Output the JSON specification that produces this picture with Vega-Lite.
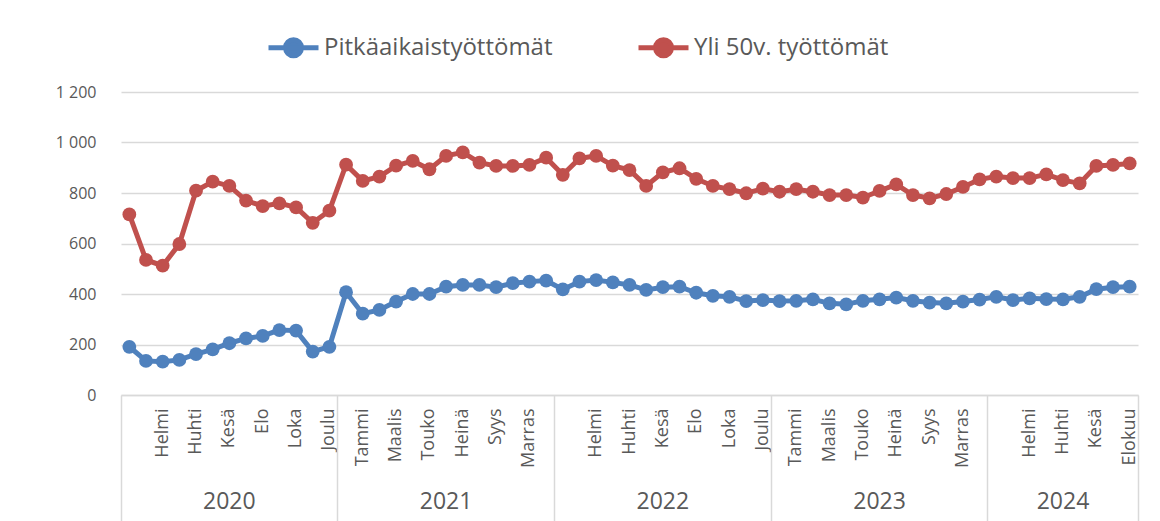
{
  "$schema": "https://vega.github.io/schema/vega-lite/v6.json",
  "width": 1017,
  "height": 303,
  "autosize": "none",
  "padding": {"left": 121, "top": 92, "right": 22, "bottom": 126},
  "background": "white",
  "config": {
    "font": "Open Sans",
    "view": {"stroke": null},
    "axis": {"labelColor": "#595959", "title": null, "grid": false, "labelOverlap": false, "labelFlush": false}
  },
  "data": {"values": [
    {"n":0,"s":"Pitkäaikaistyöttömät","v":191},{"n":1,"s":"Pitkäaikaistyöttömät","v":135},{"n":2,"s":"Pitkäaikaistyöttömät","v":132},{"n":3,"s":"Pitkäaikaistyöttömät","v":139},{"n":4,"s":"Pitkäaikaistyöttömät","v":162},{"n":5,"s":"Pitkäaikaistyöttömät","v":181},{"n":6,"s":"Pitkäaikaistyöttömät","v":205},{"n":7,"s":"Pitkäaikaistyöttömät","v":224},{"n":8,"s":"Pitkäaikaistyöttömät","v":234},{"n":9,"s":"Pitkäaikaistyöttömät","v":257},{"n":10,"s":"Pitkäaikaistyöttömät","v":255},{"n":11,"s":"Pitkäaikaistyöttömät","v":172},{"n":12,"s":"Pitkäaikaistyöttömät","v":191},
    {"n":13,"s":"Pitkäaikaistyöttömät","v":407},{"n":14,"s":"Pitkäaikaistyöttömät","v":322},{"n":15,"s":"Pitkäaikaistyöttömät","v":337},{"n":16,"s":"Pitkäaikaistyöttömät","v":370},{"n":17,"s":"Pitkäaikaistyöttömät","v":400},{"n":18,"s":"Pitkäaikaistyöttömät","v":400},{"n":19,"s":"Pitkäaikaistyöttömät","v":429},{"n":20,"s":"Pitkäaikaistyöttömät","v":436},{"n":21,"s":"Pitkäaikaistyöttömät","v":436},{"n":22,"s":"Pitkäaikaistyöttömät","v":427},{"n":23,"s":"Pitkäaikaistyöttömät","v":443},{"n":24,"s":"Pitkäaikaistyöttömät","v":449},{"n":25,"s":"Pitkäaikaistyöttömät","v":453},
    {"n":26,"s":"Pitkäaikaistyöttömät","v":418},{"n":27,"s":"Pitkäaikaistyöttömät","v":449},{"n":28,"s":"Pitkäaikaistyöttömät","v":455},{"n":29,"s":"Pitkäaikaistyöttömät","v":446},{"n":30,"s":"Pitkäaikaistyöttömät","v":436},{"n":31,"s":"Pitkäaikaistyöttömät","v":416},{"n":32,"s":"Pitkäaikaistyöttömät","v":427},{"n":33,"s":"Pitkäaikaistyöttömät","v":429},{"n":34,"s":"Pitkäaikaistyöttömät","v":405},{"n":35,"s":"Pitkäaikaistyöttömät","v":393},{"n":36,"s":"Pitkäaikaistyöttömät","v":389},{"n":37,"s":"Pitkäaikaistyöttömät","v":372},{"n":38,"s":"Pitkäaikaistyöttömät","v":376},
    {"n":39,"s":"Pitkäaikaistyöttömät","v":372},{"n":40,"s":"Pitkäaikaistyöttömät","v":373},{"n":41,"s":"Pitkäaikaistyöttömät","v":379},{"n":42,"s":"Pitkäaikaistyöttömät","v":363},{"n":43,"s":"Pitkäaikaistyöttömät","v":359},{"n":44,"s":"Pitkäaikaistyöttömät","v":373},{"n":45,"s":"Pitkäaikaistyöttömät","v":379},{"n":46,"s":"Pitkäaikaistyöttömät","v":386},{"n":47,"s":"Pitkäaikaistyöttömät","v":373},{"n":48,"s":"Pitkäaikaistyöttömät","v":366},{"n":49,"s":"Pitkäaikaistyöttömät","v":363},{"n":50,"s":"Pitkäaikaistyöttömät","v":370},{"n":51,"s":"Pitkäaikaistyöttömät","v":378},
    {"n":52,"s":"Pitkäaikaistyöttömät","v":389},{"n":53,"s":"Pitkäaikaistyöttömät","v":376},{"n":54,"s":"Pitkäaikaistyöttömät","v":383},{"n":55,"s":"Pitkäaikaistyöttömät","v":380},{"n":56,"s":"Pitkäaikaistyöttömät","v":379},{"n":57,"s":"Pitkäaikaistyöttömät","v":389},{"n":58,"s":"Pitkäaikaistyöttömät","v":419},{"n":59,"s":"Pitkäaikaistyöttömät","v":427},{"n":60,"s":"Pitkäaikaistyöttömät","v":429},
    {"n":0,"s":"Yli 50v. työttömät","v":715},{"n":1,"s":"Yli 50v. työttömät","v":535},{"n":2,"s":"Yli 50v. työttömät","v":512},{"n":3,"s":"Yli 50v. työttömät","v":598},{"n":4,"s":"Yli 50v. työttömät","v":809},{"n":5,"s":"Yli 50v. työttömät","v":845},{"n":6,"s":"Yli 50v. työttömät","v":828},{"n":7,"s":"Yli 50v. työttömät","v":770},{"n":8,"s":"Yli 50v. työttömät","v":748},{"n":9,"s":"Yli 50v. työttömät","v":759},{"n":10,"s":"Yli 50v. työttömät","v":743},{"n":11,"s":"Yli 50v. työttömät","v":682},{"n":12,"s":"Yli 50v. työttömät","v":730},
    {"n":13,"s":"Yli 50v. työttömät","v":912},{"n":14,"s":"Yli 50v. työttömät","v":848},{"n":15,"s":"Yli 50v. työttömät","v":865},{"n":16,"s":"Yli 50v. työttömät","v":908},{"n":17,"s":"Yli 50v. työttömät","v":927},{"n":18,"s":"Yli 50v. työttömät","v":894},{"n":19,"s":"Yli 50v. työttömät","v":947},{"n":20,"s":"Yli 50v. työttömät","v":961},{"n":21,"s":"Yli 50v. työttömät","v":920},{"n":22,"s":"Yli 50v. työttömät","v":907},{"n":23,"s":"Yli 50v. työttömät","v":907},{"n":24,"s":"Yli 50v. työttömät","v":911},{"n":25,"s":"Yli 50v. työttömät","v":940},
    {"n":26,"s":"Yli 50v. työttömät","v":872},{"n":27,"s":"Yli 50v. työttömät","v":937},{"n":28,"s":"Yli 50v. työttömät","v":947},{"n":29,"s":"Yli 50v. työttömät","v":908},{"n":30,"s":"Yli 50v. työttömät","v":891},{"n":31,"s":"Yli 50v. työttömät","v":828},{"n":32,"s":"Yli 50v. työttömät","v":882},{"n":33,"s":"Yli 50v. työttömät","v":898},{"n":34,"s":"Yli 50v. työttömät","v":856},{"n":35,"s":"Yli 50v. työttömät","v":828},{"n":36,"s":"Yli 50v. työttömät","v":815},{"n":37,"s":"Yli 50v. työttömät","v":799},{"n":38,"s":"Yli 50v. työttömät","v":817},
    {"n":39,"s":"Yli 50v. työttömät","v":805},{"n":40,"s":"Yli 50v. työttömät","v":815},{"n":41,"s":"Yli 50v. työttömät","v":805},{"n":42,"s":"Yli 50v. työttömät","v":792},{"n":43,"s":"Yli 50v. työttömät","v":792},{"n":44,"s":"Yli 50v. työttömät","v":782},{"n":45,"s":"Yli 50v. työttömät","v":808},{"n":46,"s":"Yli 50v. työttömät","v":834},{"n":47,"s":"Yli 50v. työttömät","v":792},{"n":48,"s":"Yli 50v. työttömät","v":779},{"n":49,"s":"Yli 50v. työttömät","v":796},{"n":50,"s":"Yli 50v. työttömät","v":824},{"n":51,"s":"Yli 50v. työttömät","v":854},
    {"n":52,"s":"Yli 50v. työttömät","v":865},{"n":53,"s":"Yli 50v. työttömät","v":859},{"n":54,"s":"Yli 50v. työttömät","v":859},{"n":55,"s":"Yli 50v. työttömät","v":874},{"n":56,"s":"Yli 50v. työttömät","v":851},{"n":57,"s":"Yli 50v. työttömät","v":838},{"n":58,"s":"Yli 50v. työttömät","v":907},{"n":59,"s":"Yli 50v. työttömät","v":911},{"n":60,"s":"Yli 50v. työttömät","v":917}
  ]},
  "encoding": {
    "y": {
      "field": "v", "type": "quantitative",
      "scale": {"domain": [0, 1200], "nice": false, "zero": true},
      "axis": {
        "values": [0, 200, 400, 600, 800, 1000, 1200],
        "labelExpr": "replace(format(datum.value, ','), ',', ' ')",
        "labelFontSize": 16, "labelPadding": 25,
        "domain": false, "ticks": false,
        "grid": true, "gridColor": "#D9D9D9", "gridWidth": 1.5
      }
    },
    "color": {
      "field": "s", "type": "nominal",
      "scale": {"domain": ["Pitkäaikaistyöttömät", "Yli 50v. työttömät"], "range": ["#4F81BD", "#C0504D"]},
      "legend": {
        "title": null, "orient": "none", "direction": "horizontal",
        "legendX": 145, "legendY": -72,
        "symbolType": "M-1,0L1,0M-0.32,0A0.32,0.32,0,1,1,0.32,0A0.32,0.32,0,1,1,-0.32,0Z",
        "symbolSize": 2500, "symbolStrokeWidth": 5, "symbolOpacity": 1,
        "labelFontSize": 24, "labelColor": "#595959", "labelOffset": 3, "labelLimit": 0,
        "columnPadding": 75,
        "encode": {"symbols": {"update": {"fill": {"scale": "color", "field": "value"}, "stroke": {"scale": "color", "field": "value"}}}}
      }
    }
  },
  "layer": [
    {
      "transform": [{"filter": "datum.s == 'Pitkäaikaistyöttömät'"}],
      "mark": {"type": "line", "strokeWidth": 5},
      "encoding": {
        "x": {
          "field": "n", "type": "ordinal",
          "scale": {"type": "band", "paddingInner": 0, "paddingOuter": 0},
          "axis": {
            "orient": "bottom",
            "values": [0,2,4,6,8,10,12,14,16,18,20,22,24,26,28,30,32,34,36,38,40,42,44,46,48,50,52,54,56,58,60],
            "labelExpr": "datum.value == 60 ? 'Elokuu' : ['', 'Tammi', 'Helmi', 'Maalis', 'Huhti', 'Touko', 'Kesä', 'Heinä', 'Elo', 'Syys', 'Loka', 'Marras', 'Joulu'][datum.value % 13]",
            "labelAngle": -90, "labelAlign": "right", "labelBaseline": "middle",
            "labelFontSize": 18, "labelPadding": 13,
            "ticks": false, "domain": true, "domainColor": "#D9D9D9", "domainWidth": 1.5
          }
        }
      }
    },
    {
      "transform": [{"filter": "datum.s == 'Pitkäaikaistyöttömät'"}],
      "mark": {"type": "point", "filled": true, "size": 190, "opacity": 1},
      "encoding": {
        "x": {
          "field": "n", "type": "ordinal",
          "scale": {"type": "band", "paddingInner": 0, "paddingOuter": 0},
          "axis": {
            "orient": "bottom",
            "values": [6, 19, 32, 45, 56],
            "labelExpr": "'' + (2020 + floor(datum.value / 13))",
            "labelAngle": 0, "labelAlign": "center", "labelBaseline": "middle",
            "labelFontSize": 23, "labelPadding": 106,
            "ticks": false, "domain": false
          }
        }
      }
    },
    {
      "transform": [{"filter": "datum.s == 'Yli 50v. työttömät'"}],
      "mark": {"type": "line", "strokeWidth": 5},
      "encoding": {
        "x": {
          "field": "n", "type": "ordinal",
          "scale": {"type": "band", "paddingInner": 0, "paddingOuter": 0},
          "axis": {
            "orient": "bottom",
            "values": [0, 13, 26, 39, 52], "bandPosition": 0,
            "labels": false, "ticks": true, "tickSize": 126, "tickColor": "#D9D9D9", "tickWidth": 1.5,
            "domain": false
          }
        }
      }
    },
    {
      "transform": [{"filter": "datum.s == 'Yli 50v. työttömät'"}],
      "mark": {"type": "point", "filled": true, "size": 190, "opacity": 1},
      "encoding": {
        "x": {
          "field": "n", "type": "ordinal",
          "scale": {"type": "band", "paddingInner": 0, "paddingOuter": 0},
          "axis": {
            "orient": "bottom",
            "values": [60], "bandPosition": 1,
            "labels": false, "ticks": true, "tickSize": 126, "tickColor": "#D9D9D9", "tickWidth": 1.5,
            "domain": false
          }
        }
      }
    }
  ],
  "resolve": {"axis": {"x": "independent"}}
}
